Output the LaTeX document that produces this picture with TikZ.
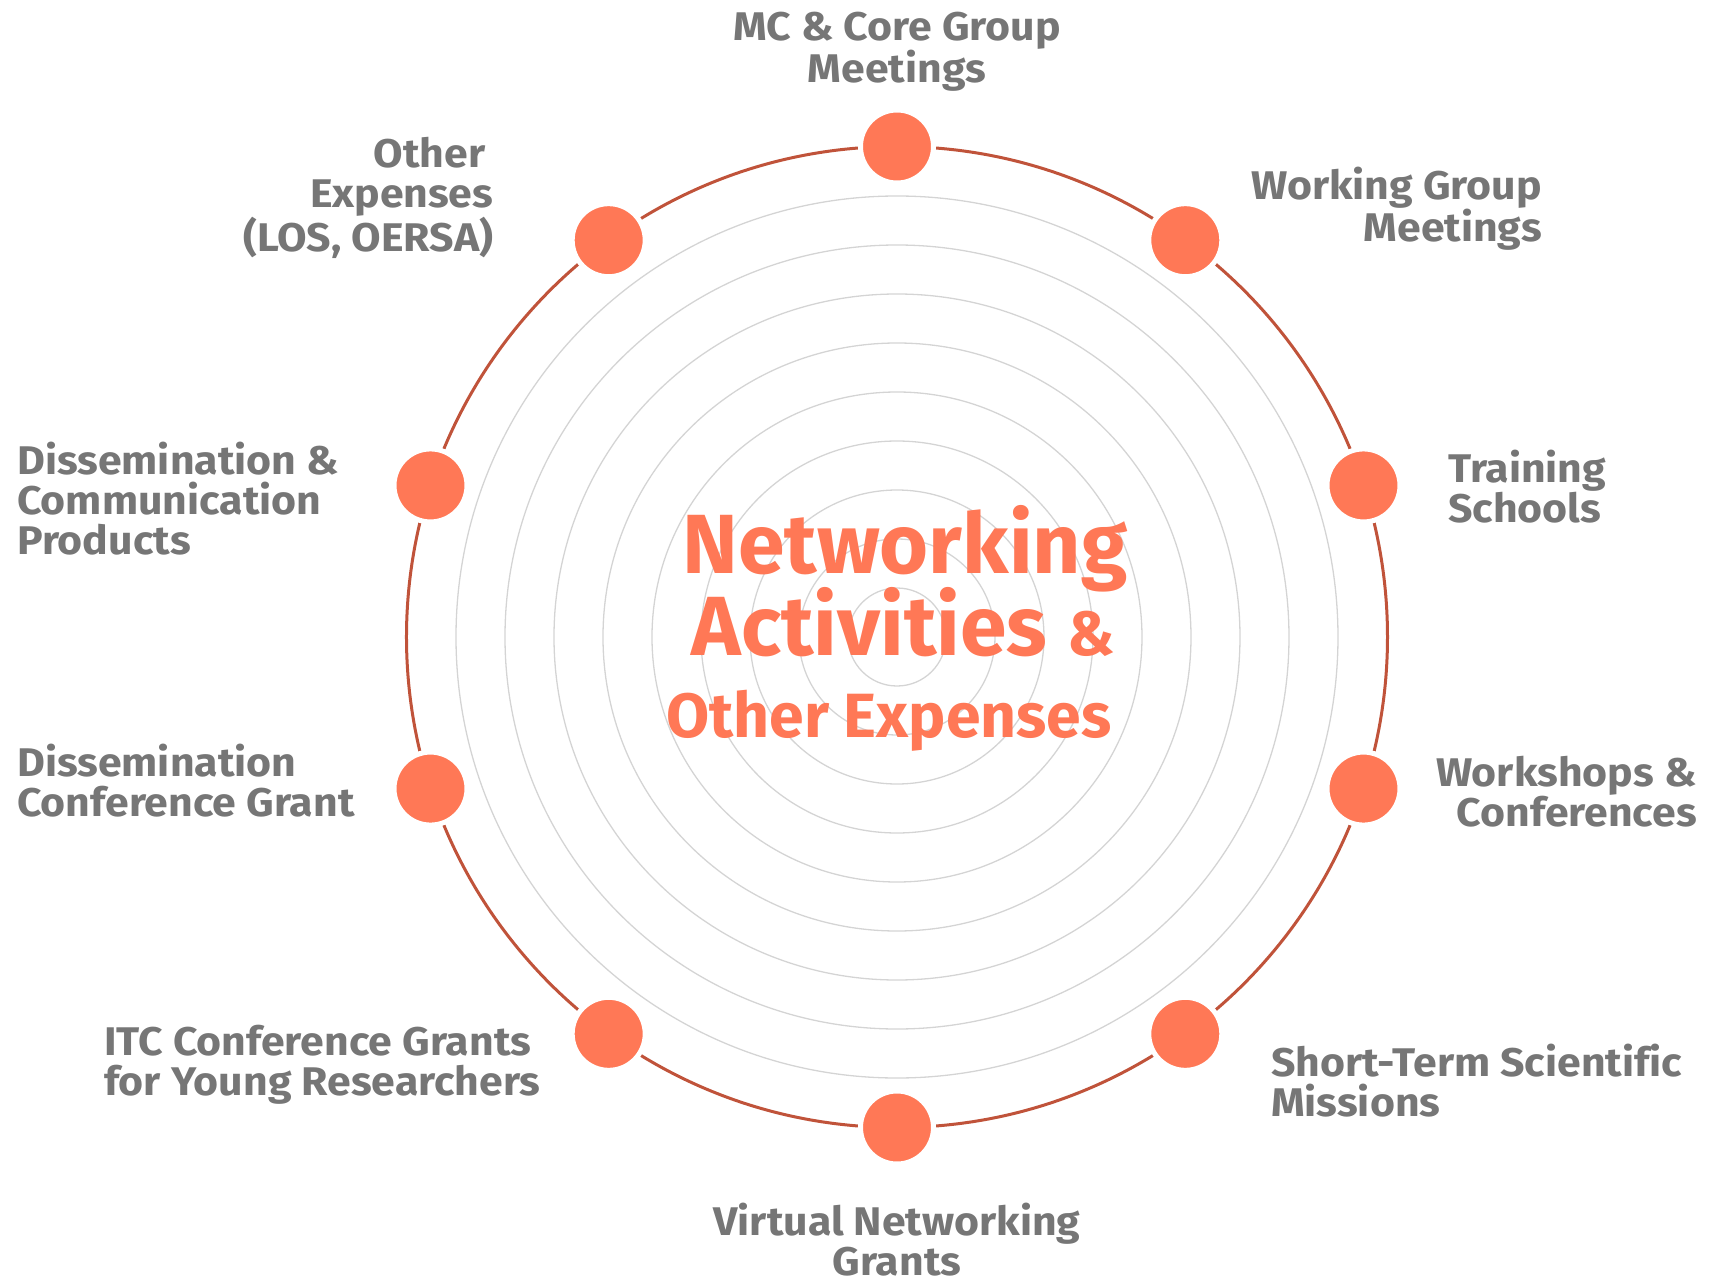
\documentclass[tikz,border=0pt]{standalone}
\usepackage{fontspec}
\setmainfont{Fira Sans}[Ligatures=NoCommon]
\newfontfamily\labelfont{Fira Sans}[Ligatures=NoCommon, FakeStretch=1.07]
\usetikzlibrary{positioning}

\definecolor{dotorange}{HTML}{FF7856}
\definecolor{ringred}{HTML}{C0533A}
\definecolor{labelgray}{HTML}{767676}
\definecolor{ringgray}{HTML}{D4D4D4}

\tikzset{
  actdot/.style={circle, fill=dotorange, draw=white, line width=5pt, minimum size=73pt, inner sep=0pt},
  actlabel/.style={text=labelgray, inner sep=0pt, font=\labelfont\fontsize{40}{40}\selectfont\bfseries},
  bigtitle/.style={text=dotorange, inner sep=0pt, font=\fontsize{84}{84}\selectfont\bfseries},
  subtitle/.style={text=dotorange, inner sep=0pt, font=\fontsize{62.5}{62.5}\selectfont\bfseries},
}

\begin{document}
\begin{tikzpicture}[x=1pt,y=1pt]
    \useasboundingbox (-897,-646) rectangle (819,637);
    % rings
    \foreach \r in {1,...,9}
        \draw [ringgray, line width=1.3pt] (0,0) circle [radius={49pt*\r}];
    \draw [ringred, line width=3pt] (0,0) circle [radius=490.5pt];
    % dots
    \node [actdot] (mc) at (90:490.5pt) {};
    \node [actdot] (wg) at (54:490.5pt) {};
    \node [actdot] (ts) at (18:490.5pt) {};
    \node [actdot] (ws) at (-18:490.5pt) {};
    \node [actdot] (stsm) at (-54:490.5pt) {};
    \node [actdot] (vn) at (-90:490.5pt) {};
    \node [actdot] (itc) at (-126:490.5pt) {};
    \node [actdot] (dcg) at (-162:490.5pt) {};
    \node [actdot] (dcp) at (162:490.5pt) {};
    \node [actdot] (oe) at (126:490.5pt) {};
    % labels (base = last line)
    \node [actlabel, align=center, anchor=base] (mclab) at (0, 554) {MC \& Core Group\\Meetings};
    \node [actlabel, align=right, anchor=base east] (wglab) at (645, 395.5) {Working Group\\Meetings};
    \node [actlabel, align=left, anchor=base west] (tslab) at (551, 115) {Training\\Schools};
    \node [actlabel, align=right, anchor=base east] (wslab) at (800, -189) {Workshops \&\\Conferences};
    \node [actlabel, align=left, anchor=base west] (stsmlab) at (374, -479) {Short-Term Scientific\\Missions};
    \node [actlabel, align=center, anchor=base] (vnlab) at (0, -638) {Virtual Networking\\Grants};
    \node [actlabel, align=left, anchor=base west] (itclab) at (-793, -458) {ITC Conference Grants\\for Young Researchers};
    \node [actlabel, align=left, anchor=base west] (dcglab) at (-880, -179) {Dissemination\\Conference Grant};
    \node [actlabel, align=left, anchor=base west] (dcplab) at (-880, 83) {Dissemination \&\\Communication\\Products};
    \node [actlabel, align=right, anchor=base east] (oelab) at (-403.5, 385) {Other\hspace*{8pt}\\Expenses\\(LOS, OERSA)};
    % centre title
    \node [bigtitle, anchor=base] (netw) at (8, 64) {Networking};
    \node [bigtitle, anchor=base] (activ) at (-27.5, -18) {Activities};
    \node [subtitle, anchor=base west] (amp) at (170.7, -18) {\&};
    \node [subtitle, anchor=base] (other) at (-8, -100) {Other Expenses};
\end{tikzpicture}
\end{document}
